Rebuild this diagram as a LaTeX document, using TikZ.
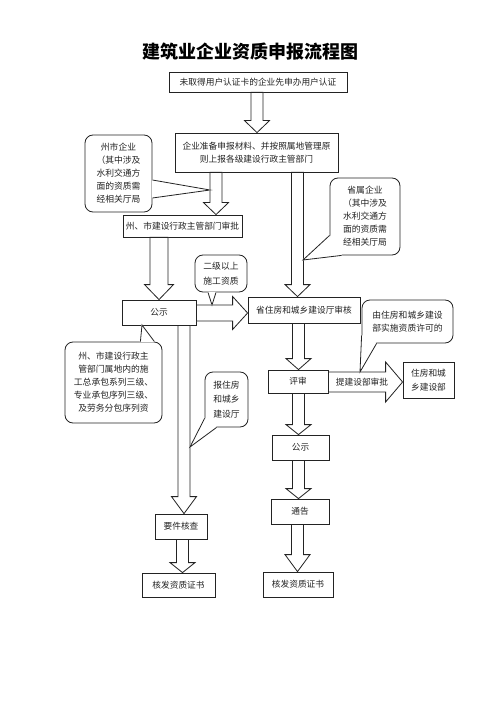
\documentclass[tikz,border=0pt]{standalone}
\usepackage{fontspec}
\newfontfamily\cjk{Noto Sans CJK SC}
\usepackage{tikz}
\usetikzlibrary{calc}
\definecolor{LineDark}{RGB}{35,35,35}

% widths of the block arrows
\newcommand{\shafthw}{6pt}
\newcommand{\headhw}{12.5pt}
% block arrow downwards: [head length]{x}{from}{to}
\newcommand{\blockdown}[4][12]{%
  \draw[blockarrow] let \p1=(#3.south), \p2=(#4.north) in
    (#2pt-\shafthw,\y1) -- (#2pt-\shafthw,\y2+#1pt) -- (#2pt-\headhw,\y2+#1pt)
    -- (#2pt,\y2) -- (#2pt+\headhw,\y2+#1pt) -- (#2pt+\shafthw,\y2+#1pt)
    -- (#2pt+\shafthw,\y1) -- cycle;}
% block arrow to the right: [head length]{y}{shaft half}{head half}{from}{to}
\newcommand{\blockright}[6][15]{%
  \draw[blockarrow] let \p1=(#5.east), \p2=(#6.west) in
    (\x1,-#2pt+#3pt) -- (\x2-#1pt,-#2pt+#3pt) -- (\x2-#1pt,-#2pt+#4pt)
    -- (\x2,-#2pt) -- (\x2-#1pt,-#2pt-#4pt) -- (\x2-#1pt,-#2pt-#3pt)
    -- (\x1,-#2pt-#3pt) -- cycle;}
% pointer of a callout: {base}{tip}{base}
\newcommand{\notetip}[3]{%
  \filldraw[white, line width=1pt, line join=round] #1 -- #2 -- #3 -- cycle;
  \draw[tipline] #1 -- #2 -- #3;}

\begin{document}
\begin{tikzpicture}[x=1pt, y=-1pt,
    txt/.style={font=\cjk\fontsize{8.7}{12}\selectfont, text=LineDark},
    procbox/.style={txt, draw=LineDark, line width=0.8pt, fill=white, inner sep=0pt, align=center},
    notebox/.style={txt, draw=LineDark, line width=0.8pt, fill=white, rounded corners=8pt,
      inner sep=0pt, align=center, font=\cjk\fontsize{8.8}{13}\selectfont},
    blockarrow/.style={draw=LineDark, line width=0.8pt, fill=white, line join=miter},
    tipline/.style={draw=LineDark, line width=0.8pt}]
  \useasboundingbox[fill=white] (0,0) rectangle (500,708);

  % Title
  \node[font=\cjk\bfseries\fontsize{18}{22}\selectfont] (title) at (250,52) {建筑业企业资质申报流程图};

  % Main column
  \node[procbox, minimum width=178pt, minimum height=20pt] (apply) at (258,82) {未取得用户认证卡的企业先申办用户认证};
  \node[procbox, minimum width=163pt, minimum height=39pt, font=\cjk\fontsize{8.7}{12.5}\selectfont] (prepare) at (256.5,152.5)
    {企业准备申报材料、并按照属地管理原\\则上报各级建设行政主管部门};
  \node[procbox, minimum width=119pt, minimum height=22pt] (city) at (182.5,226) {州、市建设行政主管部门审批};
  \node[procbox, minimum width=74pt, minimum height=25pt] (pubA) at (159,312.5) {公示};
  \node[procbox, minimum width=112pt, minimum height=26pt] (province) at (304,310) {省住房和城乡建设厅审核};
  \node[procbox, minimum width=60pt, minimum height=23pt] (review) at (298,381.5) {评审};
  \node[procbox, minimum width=51pt, minimum height=36pt, font=\cjk\fontsize{8.7}{14.5}\selectfont] (ministry) at (428.5,380) {住房和城\\乡建设部};
  \node[procbox, minimum width=57pt, minimum height=25pt] (pubB) at (300.5,447.5) {公示};
  \node[procbox, minimum width=58pt, minimum height=25pt] (notice) at (300,511.5) {通告};
  \node[procbox, minimum width=70pt, minimum height=25pt] (certB) at (298,584.5) {核发资质证书};
  \node[procbox, minimum width=52pt, minimum height=25pt] (check) at (181,526.5) {要件核查};
  \node[procbox, minimum width=73pt, minimum height=24pt] (certA) at (178.5,585) {核发资质证书};

  % Block arrows
  \blockdown{257}{apply}{prepare}
  \blockdown{216}{prepare}{city}
  \blockdown{297.5}{prepare}{province}
  {\renewcommand{\shafthw}{9pt}\renewcommand{\headhw}{14.5pt}%
   \blockdown[15]{159}{city}{pubA}}
  \blockright[15]{313}{8}{16.5}{pubA}{province}
  \blockdown[11]{298.5}{province}{review}
  \blockright[17]{382}{10}{20}{review}{ministry}
  \node[txt] (tominist) at (362,382) {提建设部审批};
  \blockdown[10]{298.5}{review}{pubB}
  \blockdown[10]{298.5}{pubB}{notice}
  \blockdown[17]{297.5}{notice}{certB}
  \blockdown[17]{184}{pubA}{check}
  \blockdown[10]{182.5}{check}{certA}

  % Callouts
  \node[notebox, minimum width=67pt, minimum height=77pt] (noteCity) at (118.5,173.5)
    {州市企业\\（其中涉及\\水利交通方\\面的资质需\\经相关厅局};
  \coordinate (tipCity) at (210,190);
  \notetip{($(noteCity.east)+(0,6.5)$)}{(tipCity)}{($(noteCity.east)+(0,24.5)$)}

  \node[notebox, minimum width=70pt, minimum height=77pt] (noteProv) at (365,216.5)
    {省属企业\\（其中涉及\\水利交通方\\面的资质需\\经相关厅局};
  \coordinate (tipProv) at (303,260);
  \notetip{($(noteProv.south west)+(0,-20)$)}{(tipProv)}{($(noteProv.south west)+(12,0)$)}

  \node[notebox, minimum width=52pt, minimum height=37pt, font=\cjk\fontsize{8.8}{14.5}\selectfont] (noteGrade) at (221,273.5)
    {二级以上\\施工资质};
  \coordinate (tipGrade) at (212,305);
  \notetip{($(noteGrade.south)+(-13,0)$)}{(tipGrade)}{($(noteGrade.south)+(-5,0)$)}

  \node[notebox, minimum width=91pt, minimum height=43pt, font=\cjk\fontsize{8.8}{12.5}\selectfont] (noteMin) at (407.5,321.5)
    {由住房和城乡建设\\部实施资质许可的};
  \coordinate (tipMin) at (360,372);
  \notetip{($(noteMin.south west)+(0,-8)$)}{(tipMin)}{($(noteMin.south west)+(15,0)$)}

  \node[notebox, minimum width=97pt, minimum height=81pt] (noteLocal) at (113.5,382.5)
    {州、市建设行政主\\管部门属地内的施\\工总承包系列三级、\\专业承包序列三级、\\及劳务分包序列资};
  \coordinate (tipLocal) at (142,325);
  \notetip{($(noteLocal.north east)+(-22,0)$)}{(tipLocal)}{($(noteLocal.north east)+(-8,0)$)}

  \node[notebox, minimum width=43pt, minimum height=55pt, font=\cjk\fontsize{8.8}{14.5}\selectfont] (noteHall) at (226.5,399.5)
    {报住房\\和城乡\\建设厅};
  \coordinate (tipHall) at (190,447);
  \notetip{($(noteHall.south west)+(0,-9)$)}{(tipHall)}{($(noteHall.south west)+(12,0)$)}
\end{tikzpicture}
\end{document}
